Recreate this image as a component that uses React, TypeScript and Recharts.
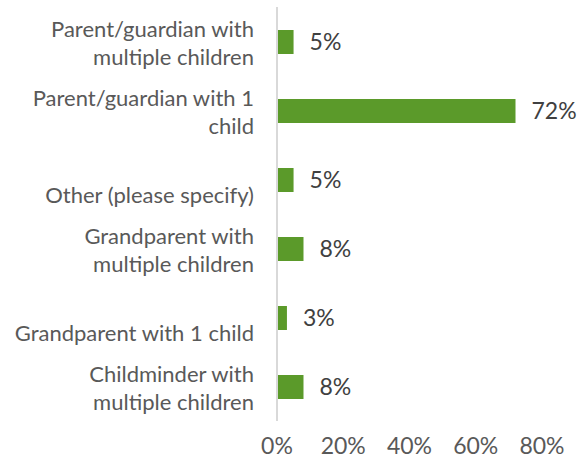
import { BarChart, Bar, XAxis, YAxis, LabelList } from 'recharts';

const categories = [
  'Parent/guardian with multiple children',
  'Parent/guardian with 1 child',
  'Other (please specify)',
  'Grandparent with multiple children',
  'Grandparent with 1 child',
  'Childminder with multiple children',
];

// wrapped lines as shown on the axis
const categoryLines = [
  ['Parent/guardian with', 'multiple children'],
  ['Parent/guardian with 1', 'child'],
  ['Other (please specify)'],
  ['Grandparent with', 'multiple children'],
  ['Grandparent with 1 child'],
  ['Childminder with', 'multiple children'],
];

const shares = [5, 72, 5, 8, 3, 8];

const xTicks = [0, 20, 40, 60, 80];

const data = categories.map((name, i) => ({ name, value: shares[i] }));

const FONT = 'Lato, sans-serif';

const CategoryTick = (props: any) => {
  const { x, y, index } = props;
  const lines = categoryLines[index] || [];
  // Excel-style placement: single lines sit on the second-line slot
  const rows = lines.length === 1 ? [18] : [-10, 18];
  return (
    <g>
      {lines.map((line, i) => (
        <text
          key={i}
          x={x - 15}
          y={y + rows[i]}
          textAnchor="end"
          dominantBaseline="middle"
          fill="#595959"
          fontSize={22}
          fontFamily={FONT}
        >
          {line}
        </text>
      ))}
    </g>
  );
};

export default function App() {
  return (
    <div style={{ position: 'absolute', left: 0, top: 0, width: 581, height: 468, background: '#fff' }}>
      <BarChart
        width={581}
        height={468}
        data={data}
        layout="vertical"
        margin={{ top: 7, right: 39, bottom: 0, left: 0 }}
        barCategoryGap={0}
      >
        <XAxis
          type="number"
          domain={[0, 80]}
          ticks={xTicks}
          tickFormatter={(v) => `${v}%`}
          axisLine={false}
          tickLine={false}
          tickSize={0}
          tickMargin={17}
          height={47}
          interval={0}
          tick={{ fill: '#595959', fontSize: 23, fontFamily: FONT }}
        />
        <YAxis
          type="category"
          dataKey="name"
          width={277}
          axisLine={{ stroke: '#d9d9d9', strokeWidth: 2 }}
          tickLine={false}
          interval={0}
          tick={<CategoryTick />}
        />
        <Bar dataKey="value" fill="#5b9a2a" barSize={24} isAnimationActive={false}>
          <LabelList
            dataKey="value"
            position="right"
            offset={16}
            formatter={(v: any) => `${v}%`}
            fill="#404040"
            fontSize={23}
            fontFamily={FONT}
          />
        </Bar>
      </BarChart>
    </div>
  );
}
